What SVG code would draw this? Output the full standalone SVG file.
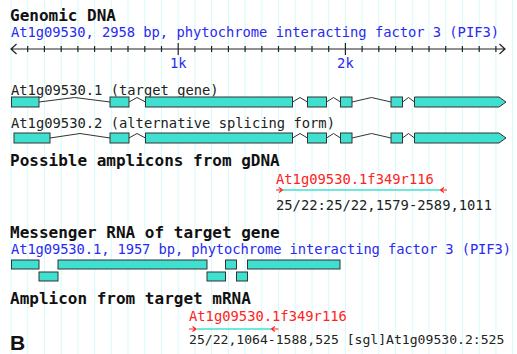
<svg xmlns="http://www.w3.org/2000/svg" width="517" height="354" viewBox="0 0 517 354">
<defs>
<style>
.grid line{stroke:#d6fafa;stroke-width:1}
.title{font-family:"DejaVu Sans Mono","Liberation Mono",monospace;font-weight:bold;font-size:16px;fill:#111}
.mono{font-family:"DejaVu Sans Mono","Liberation Mono",monospace;font-size:13.8px}
.blue{fill:#2a2af0}
.red{fill:#ff2222}
.dark{fill:#222}
.exon{fill:#40e0d0;stroke:#333;stroke-width:1}
.intron{fill:none;stroke:#333;stroke-width:1}
.axis{stroke:#222;stroke-width:1.2;fill:none}
.amp{stroke:#40e0d0;stroke-width:1.5}
.rarr{stroke:#ff2222;stroke-width:1.2;fill:none}
</style>
</defs>
<rect x="0" y="0" width="517" height="354" fill="#fff"/>
<g class="grid">
<line x1="11" y1="0" x2="11" y2="354"/><line x1="27.7" y1="0" x2="27.7" y2="354"/><line x1="44.4" y1="0" x2="44.4" y2="354"/><line x1="61.2" y1="0" x2="61.2" y2="354"/><line x1="77.9" y1="0" x2="77.9" y2="354"/><line x1="94.6" y1="0" x2="94.6" y2="354"/><line x1="111.3" y1="0" x2="111.3" y2="354"/><line x1="128" y1="0" x2="128" y2="354"/><line x1="144.8" y1="0" x2="144.8" y2="354"/><line x1="161.5" y1="0" x2="161.5" y2="354"/><line x1="178.2" y1="0" x2="178.2" y2="354"/><line x1="194.9" y1="0" x2="194.9" y2="354"/><line x1="211.6" y1="0" x2="211.6" y2="354"/><line x1="228.4" y1="0" x2="228.4" y2="354"/><line x1="245.1" y1="0" x2="245.1" y2="354"/><line x1="261.8" y1="0" x2="261.8" y2="354"/><line x1="278.5" y1="0" x2="278.5" y2="354"/><line x1="295.2" y1="0" x2="295.2" y2="354"/><line x1="312" y1="0" x2="312" y2="354"/><line x1="328.7" y1="0" x2="328.7" y2="354"/><line x1="345.4" y1="0" x2="345.4" y2="354"/><line x1="362.1" y1="0" x2="362.1" y2="354"/><line x1="378.8" y1="0" x2="378.8" y2="354"/><line x1="395.6" y1="0" x2="395.6" y2="354"/><line x1="412.3" y1="0" x2="412.3" y2="354"/><line x1="429" y1="0" x2="429" y2="354"/><line x1="445.7" y1="0" x2="445.7" y2="354"/><line x1="462.4" y1="0" x2="462.4" y2="354"/><line x1="479.2" y1="0" x2="479.2" y2="354"/><line x1="495.9" y1="0" x2="495.9" y2="354"/><line x1="512.6" y1="0" x2="512.6" y2="354"/>
</g>

<g id="genomic">
<text class="title" x="10" y="21">Genomic DNA</text>
<text class="mono blue" x="11" y="37" textLength="488" lengthAdjust="spacing">At1g09530, 2958 bp, phytochrome interacting factor 3 (PIF3)</text>
<path class="axis" d="M11 49H505M16.5 44L11 49L16.5 54M499.5 44L505 49L499.5 54"/>
<path class="axis" d="M27.7 46v6M44.4 46v6M61.2 46v6M77.9 46v6M94.6 46v6M111.3 46v6M128 46v6M144.8 46v6M161.5 46v6M178.2 43v12M194.9 46v6M211.6 46v6M228.4 46v6M245.1 46v6M261.8 46v6M278.5 46v6M295.2 46v6M312 46v6M328.7 46v6M345.4 43v12M362.1 46v6M378.8 46v6M395.6 46v6M412.3 46v6M429 46v6M445.7 46v6M462.4 46v6M479.2 46v6M495.9 46v6"/>
<text class="mono blue" x="178.2" y="68" text-anchor="middle">1k</text>
<text class="mono blue" x="345.4" y="68" text-anchor="middle">2k</text>
</g>

<g id="transcript1">
<text class="mono dark" x="11" y="95">At1g09530.1 (target gene)</text>
<polyline class="intron" points="39,102 74.5,97.5 110,102"/>
<polyline class="intron" points="129,102 137,97.5 145.5,102"/>
<polyline class="intron" points="292.5,102 300,97.5 307.5,102"/>
<polyline class="intron" points="326.5,102 333.5,97.5 340.5,102"/>
<polyline class="intron" points="352,102 371.5,97.5 391,102"/>
<polyline class="intron" points="402.5,102 408.5,97.5 414.5,102"/>
<rect class="exon" x="11.5" y="97" width="27.5" height="10"/>
<rect class="exon" x="110" y="97" width="19" height="10"/>
<rect class="exon" x="145.5" y="97" width="147" height="10"/>
<rect class="exon" x="307.5" y="97" width="19" height="10"/>
<rect class="exon" x="340.5" y="97" width="11.5" height="10"/>
<rect class="exon" x="391" y="97" width="11.5" height="10"/>
<polygon class="exon" points="414.5,97 499,97 506,102 499,107 414.5,107"/>
</g>

<g id="transcript2">
<text class="mono dark" x="11" y="128">At1g09530.2 (alternative splicing form)</text>
<polyline class="intron" points="50,138 80,133.5 110,138"/>
<polyline class="intron" points="129,138 137,133.5 145.5,138"/>
<polyline class="intron" points="292.5,138 300,133.5 307.5,138"/>
<polyline class="intron" points="326.5,138 333.5,133.5 340.5,138"/>
<polyline class="intron" points="352,138 371.5,133.5 391,138"/>
<polyline class="intron" points="402.5,138 408.5,133.5 414.5,138"/>
<rect class="exon" x="14" y="133" width="36" height="10"/>
<rect class="exon" x="110" y="133" width="19" height="10"/>
<rect class="exon" x="145.5" y="133" width="147" height="10"/>
<rect class="exon" x="307.5" y="133" width="19" height="10"/>
<rect class="exon" x="340.5" y="133" width="11.5" height="10"/>
<rect class="exon" x="391" y="133" width="11.5" height="10"/>
<polygon class="exon" points="414.5,133 499,133 506,138 499,143 414.5,143"/>
</g>

<g id="gdna-amplicon">
<text class="title" x="10" y="166">Possible amplicons from gDNA</text>
<text class="mono red" x="276" y="184">At1g09530.1f349r116</text>
<line class="amp" x1="283" y1="190" x2="440" y2="190"/>
<path class="rarr" d="M276 190H282M279 187.5L282.5 190L279 192.5M447 190H441M444 187.5L440.5 190L444 192.5"/>
<text class="mono dark" x="276" y="210">25/22:25/22,1579-2589,1011</text>
</g>

<g id="mrna">
<text class="title" x="10" y="238">Messenger RNA of target gene</text>
<text class="mono blue" x="11" y="254" textLength="500" lengthAdjust="spacing">At1g09530.1, 1957 bp, phytochrome interacting factor 3 (PIF3)</text>
<rect class="exon" x="11.5" y="260" width="27.5" height="9"/>
<rect class="exon" x="39" y="272" width="19" height="9"/>
<rect class="exon" x="58" y="260" width="149" height="9"/>
<rect class="exon" x="207" y="272" width="18.5" height="9"/>
<rect class="exon" x="225.5" y="260" width="11" height="9"/>
<rect class="exon" x="236.5" y="272" width="11" height="9"/>
<rect class="exon" x="247.5" y="260" width="92.5" height="9"/>
</g>

<g id="mrna-amplicon">
<text class="title" x="10" y="304">Amplicon from target mRNA</text>
<text class="mono red" x="189" y="321">At1g09530.1f349r116</text>
<line class="amp" x1="197" y1="329" x2="271" y2="329"/>
<path class="rarr" d="M189 329H195.5M192.5 326.5L196 329L192.5 331.5M278.5 329H272M275 326.5L271.5 329L275 331.5"/>
<text class="mono dark" x="189" y="344" style="font-size:13.1px">25/22,1064-1588,525 [sgl]At1g09530.2:525</text>
</g>

<text x="10" y="350" font-family="Liberation Sans, Arial, sans-serif" font-weight="bold" font-size="21" fill="#111">B</text>
</svg>
